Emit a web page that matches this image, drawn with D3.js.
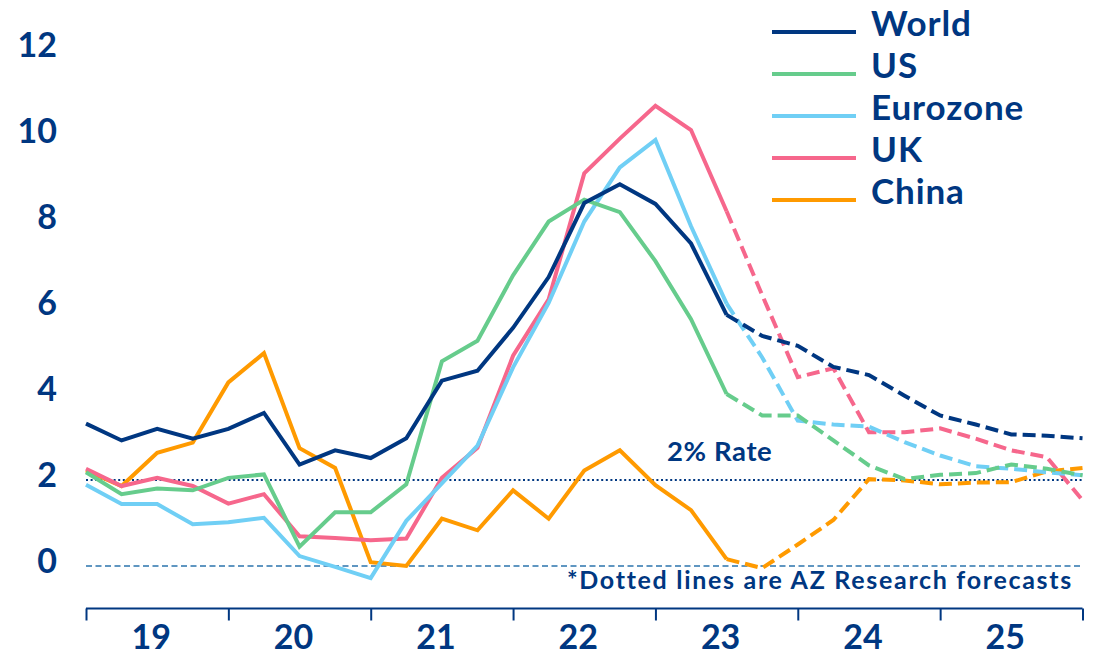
<!DOCTYPE html>
<html>
<head>
<meta charset="utf-8">
<script src="https://cdn.jsdelivr.net/npm/d3@7"></script>
<style>
  html, body { margin: 0; padding: 0; background: #fff; }
  svg { display: block; font-family: Lato, "Noto Sans", sans-serif; }
</style>
</head>
<body>
<div id="chart"></div>
<script>
// quarterly inflation, % y/y, 2019 Q1 .. 2026 Q1 (forecasts from index 18 on)
const quarters = d3.range(29).map(i => 2019 + i / 4);
const forecastFrom = 18;

const world    = [3.31, 2.92, 3.19, 2.96, 3.19, 3.56, 2.36, 2.69, 2.51, 2.97, 4.31, 4.54, 5.54, 6.72, 8.44, 8.88, 8.42, 7.50, 5.84, 5.35, 5.12, 4.63, 4.44, 3.96, 3.50, 3.29, 3.06, 3.03, 2.97];
const us       = [2.18, 1.67, 1.80, 1.76, 2.05, 2.13, 0.45, 1.25, 1.25, 1.90, 4.76, 5.24, 6.76, 8.01, 8.52, 8.23, 7.09, 5.74, 4.00, 3.50, 3.50, 2.92, 2.34, 2.02, 2.12, 2.16, 2.36, 2.26, 2.11];
const eurozone = [1.89, 1.44, 1.44, 0.97, 1.02, 1.12, 0.23, -0.02, -0.28, 1.05, 1.92, 2.80, 4.62, 6.12, 8.01, 9.27, 9.91, 7.90, 6.10, 4.85, 3.38, 3.29, 3.24, 2.88, 2.57, 2.32, 2.26, 2.18, 2.11];
const uk       = [2.26, 1.86, 2.05, 1.86, 1.45, 1.67, 0.69, 0.65, 0.60, 0.64, 2.05, 2.75, 4.89, 6.20, 9.13, 9.94, 10.70, 10.14, 8.25, 6.30, 4.39, 4.60, 3.11, 3.11, 3.20, 2.96, 2.69, 2.53, 1.53];
const china    = [2.22, 1.86, 2.63, 2.87, 4.27, 4.95, 2.74, 2.28, 0.09, 0.00, 1.10, 0.83, 1.76, 1.10, 2.22, 2.69, 1.88, 1.30, 0.16, -0.05, 0.50, 1.07, 2.02, 1.99, 1.90, 1.94, 1.95, 2.20, 2.28];

const seriesNames = ["World", "US", "Eurozone", "UK", "China"];
const seriesValues = [world, us, eurozone, uk, china];
const yearTicks = [2019, 2020, 2021, 2022, 2023, 2024, 2025, 2026];
const yearLabels = ["19", "20", "21", "22", "23", "24", "25"];
const yTicks = [0, 2, 4, 6, 8, 10, 12];
const targetRate = 2;

let options = {
    width: 1099,
    height: 656,
    colors: ["#003781", "#66cc8c", "#70cff5", "#f6678c", "#ff9a00"],
    navy: "#003781",
    lineWidth: 4
};

let xScale = d3.scaleLinear().domain([2019, 2026]).range([86, 1082.5]);
let yScale = d3.scaleLinear().domain([0, 12]).range([566, 50]);

let svg = d3.select("#chart")
    .append("svg")
    .attr("width", options.width)
    .attr("height", options.height);

// y labels, no axis line
let yAxis = d3.axisLeft(yScale).tickValues(yTicks).tickSize(0).tickPadding(0);
let yG = svg.append("g")
    .attr("transform", "translate(57,-4)")
    .call(yAxis);
yG.select(".domain").remove();
yG.selectAll("text")
    .attr("fill", options.navy)
    .style("font-size", "34px")
    .style("font-weight", 700)
    .style("font-family", "Lato");

// x axis: line + year ticks, labels in between
let xAxis = d3.axisBottom(xScale).tickValues(yearTicks).tickSize(12).tickFormat("");
let xG = svg.append("g")
    .attr("transform", "translate(0,608.5)")
    .call(xAxis);
xG.select(".domain").attr("stroke", options.navy).attr("stroke-width", 2).attr("d", "M86,0H1082.5");
xG.selectAll(".tick line").attr("stroke", options.navy).attr("stroke-width", 2);

svg.append("g").selectAll("text")
    .data(yearLabels)
    .enter()
    .append("text")
    .attr("x", (d, i) => xScale(yearTicks[i] + 0.5) - 6)
    .attr("y", 649)
    .attr("text-anchor", "middle")
    .attr("fill", options.navy)
    .style("font-size", "34px")
    .style("font-weight", 700)
    .text(d => d);

// reference lines
svg.append("line")
    .attr("x1", xScale(2019)).attr("x2", xScale(2026))
    .attr("y1", yScale(0)).attr("y2", yScale(0))
    .attr("stroke", "#2b74ad").attr("stroke-width", 1.6)
    .attr("stroke-dasharray", "6,3.5");

svg.append("line")
    .attr("x1", xScale(2019)).attr("x2", xScale(2026))
    .attr("y1", yScale(targetRate)).attr("y2", yScale(targetRate))
    .attr("stroke", options.navy).attr("stroke-width", 2)
    .attr("stroke-dasharray", "2,2.6");

svg.append("text")
    .attr("x", 667)
    .attr("y", 461)
    .attr("fill", options.navy)
    .style("font-size", "27.5px")
    .style("font-weight", 700)
    .style("letter-spacing", "0.6px")
    .text("2% Rate");

svg.append("text")
    .attr("x", 1073)
    .attr("y", 589)
    .attr("text-anchor", "end")
    .attr("fill", options.navy)
    .style("font-size", "25px")
    .style("font-weight", 700)
    .style("letter-spacing", "1.7px")
    .text("*Dotted lines are AZ Research forecasts");

// series
let line = d3.line()
    .x(d => xScale(d.q))
    .y(d => yScale(d.v));

let series = seriesValues.map((vals, i) => {
    let pts = vals.map((v, j) => ({q: quarters[j], v: v}));
    return {
        name: seriesNames[i],
        color: options.colors[i],
        actual: pts.slice(0, forecastFrom + 1),
        forecast: pts.slice(forecastFrom)
    };
});

let plot = svg.append("g");
// draw back to front so World ends on top
series.slice().reverse().forEach(s => {
    plot.append("path")
        .attr("d", line(s.actual))
        .attr("fill", "none")
        .attr("stroke", s.color)
        .attr("stroke-width", options.lineWidth)
        .attr("stroke-linejoin", "miter");
    plot.append("path")
        .attr("d", line(s.forecast))
        .attr("fill", "none")
        .attr("stroke", s.color)
        .attr("stroke-width", options.lineWidth)
        .attr("stroke-dasharray", "13,6");
});

// legend
let legend = svg.append("g");
legend.selectAll(".legendLine")
    .data(series)
    .enter()
    .append("line")
    .attr("x1", 772).attr("x2", 856)
    .attr("y1", (d, i) => 32 + i * 42)
    .attr("y2", (d, i) => 32 + i * 42)
    .attr("stroke", d => d.color)
    .attr("stroke-width", options.lineWidth);

legend.selectAll(".legendLabel")
    .data(series)
    .enter()
    .append("text")
    .attr("x", 871)
    .attr("y", (d, i) => 36 + i * 42)
    .attr("fill", options.navy)
    .style("font-size", "35px")
    .style("font-weight", 700)
    .style("letter-spacing", "0.9px")
    .text(d => d.name);
</script>
</body>
</html>
